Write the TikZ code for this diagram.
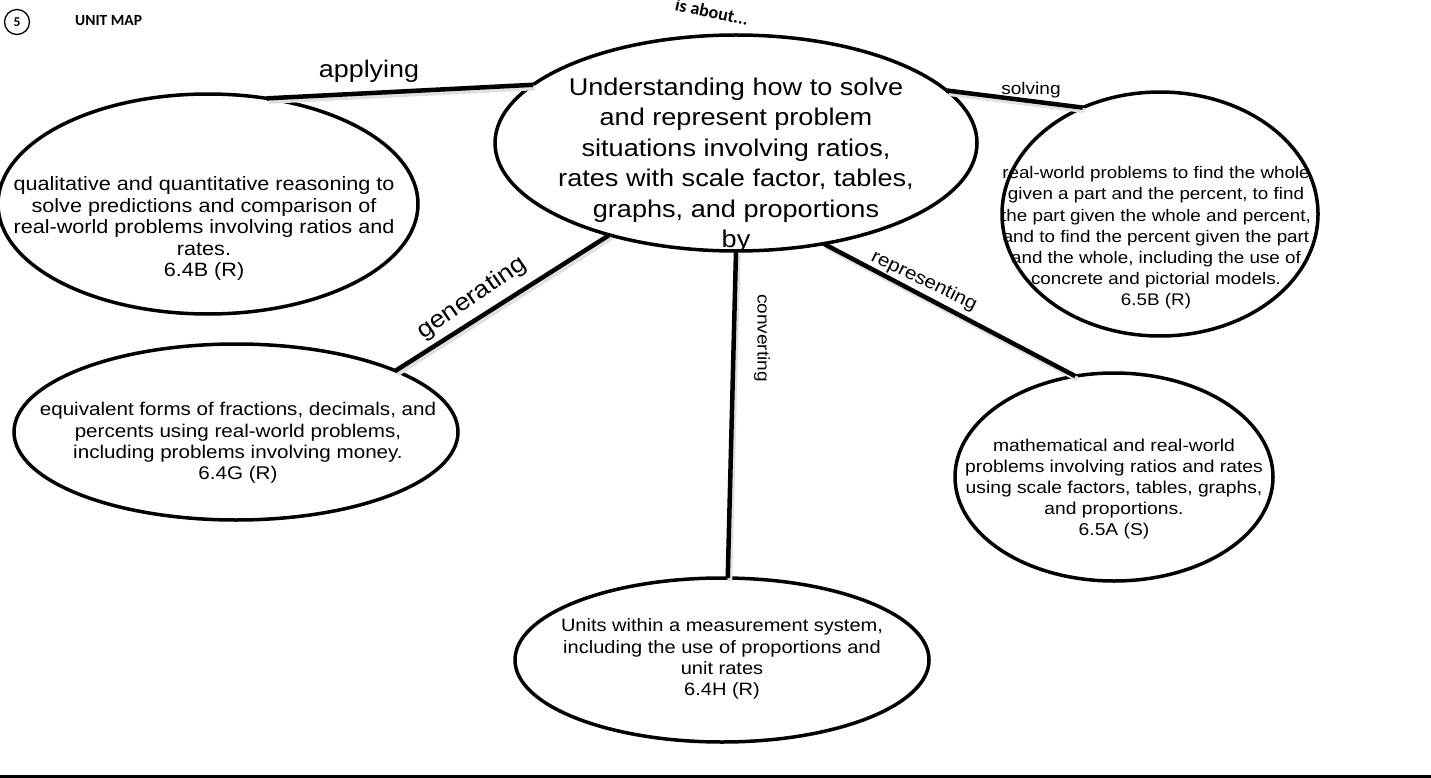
\documentclass[tikz,border=0pt]{standalone}
\usepackage{fontspec}
\setmainfont[FakeStretch=1.12]{Liberation Sans}
\newfontfamily\calibri{Carlito}
\usetikzlibrary{shapes.geometric}
\begin{document}
\begin{tikzpicture}[x=1pt,y=-1pt,
  bubble/.style={draw, ellipse, line width=3.5pt, inner sep=0pt, outer sep=0pt},
  link/.style={line width=4.5pt},
  shadowline/.style={line width=5pt, draw=black!12},
  txt/.style={align=center, inner sep=0pt},
  big/.style={align=center, inner sep=0pt, font=\fontsize{24.2}{30.5}\selectfont},
  lbl/.style={inner sep=0pt, font=\fontsize{17}{20}\selectfont},
  biglbl/.style={inner sep=0pt, font=\fontsize{24}{28}\selectfont},
]
\useasboundingbox (0,0) rectangle (1431,778);

% header
\node[draw, circle, line width=1.3pt, minimum size=25pt, inner sep=0pt,
      font=\calibri\bfseries\fontsize{13.5}{13.5}\selectfont] (num) at (17,22) {5};
\node[anchor=west, inner sep=0pt, font=\calibri\bfseries\fontsize{15.5}{15.5}\selectfont] (title) at (75,21) {UNIT MAP};
\node[inner sep=0pt, rotate=-12, font=\calibri\bfseries\fontsize{18}{18}\selectfont] (about) at (712,12) {is about...};

% ellipses
\node[bubble, minimum width=482pt, minimum height=216pt] (c) at (736,143) {};
\node[bubble, minimum width=420pt, minimum height=220pt] (tl) at (208,204) {};
\node[bubble, minimum width=316pt, minimum height=244pt] (r) at (1160,214) {};
\node[bubble, minimum width=444pt, minimum height=176pt] (bl) at (236,432) {};
\node[bubble, minimum width=318pt, minimum height=208pt] (br) at (1114,477) {};
\node[bubble, minimum width=414pt, minimum height=164pt] (b) at (722,660) {};

% texts
\node[big] (ct) at (736,165) {Understanding how to solve\\and represent problem\\situations involving ratios,\\rates with scale factor, tables,\\graphs, and proportions\\by};
\node[txt, font=\fontsize{19.3}{21.5}\selectfont] (tlt) at (204,229) {qualitative and quantitative reasoning to\\solve predictions and comparison of\\real-world problems involving ratios and\\rates.\\6.4B (R)};
\node[txt, font=\fontsize{16.8}{21.2}\selectfont] (rt) at (1156,238) {real-world problems to find the whole\\given a part and the percent, to find\\the part given the whole and percent,\\and to find the percent given the part\\and the whole, including the use of\\concrete and pictorial models.\\6.5B (R)};
\node[txt, font=\fontsize{18.4}{21.2}\selectfont] (blt) at (238,443) {equivalent forms of fractions, decimals, and\\percents using real-world problems,\\including problems involving money.\\6.4G (R)};
\node[txt, font=\fontsize{17.2}{21.2}\selectfont] (brt) at (1114,489) {mathematical and real-world\\problems involving ratios and rates\\using scale factors, tables, graphs,\\and proportions.\\6.5A (S)};
\node[txt, font=\fontsize{17.9}{21.2}\selectfont] (bt) at (722,659) {Units within a measurement system,\\including the use of proportions and\\unit rates\\6.4H (R)};

% connector shadows
\draw[shadowline] ([shift={(2,3)}]tl.61) -- ([shift={(2,3)}]c.164);
\draw[shadowline] ([shift={(2,3)}]c.14.6) -- ([shift={(2,3)}]r.126);
\draw[shadowline] ([shift={(2,3)}]bl.21) -- ([shift={(2,3)}]c.-144.6);
\draw[shadowline] ([shift={(2,3)}]c.-90) -- ([shift={(2,3)}]b.86);
\draw[shadowline] ([shift={(2,3)}]c.-49.3) -- ([shift={(2,3)}]br.111);

% connectors
\draw[link] (tl.61) -- (c.164);
\draw[link] (c.14.6) -- (r.126);
\draw[link] (bl.21) -- (c.-144.6);
\draw[link] (c.-90) -- (b.86);
\draw[link] (c.-49.3) -- (br.111);

% connector labels
\node[biglbl, anchor=base] (lapply) at (369,78) {applying};
\node[lbl, anchor=base] (lsolve) at (1031,95) {solving};
\node[biglbl, rotate=34.5] (lgen) at (472,298) {generating};
\node[lbl, rotate=-90] (lconv) at (762,338) {converting};
\node[lbl, rotate=-26, font=\fontsize{18.5}{21}\selectfont] (lrep) at (924,281) {representing};

% bottom rule
\draw[line width=3pt] (0,776.5) -- (1431,776.5);
\end{tikzpicture}
\end{document}
